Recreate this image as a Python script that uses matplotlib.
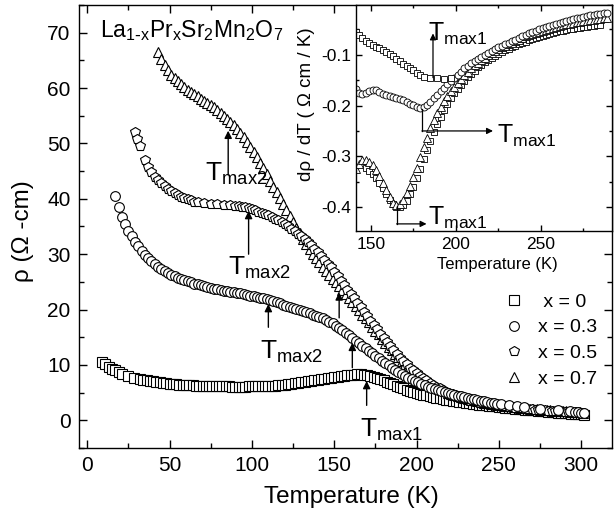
import numpy as np
import matplotlib
matplotlib.use("Agg")
import matplotlib.pyplot as plt
from matplotlib.ticker import MultipleLocator

plt.rcParams['font.family'] = ['Liberation Sans', 'DejaVu Sans']
plt.rcParams['mathtext.default'] = 'regular'
plt.rcParams['axes.unicode_minus'] = False

# ---- main panel: rho(T) ----
# x = 0 (squares)
T_x0 = np.r_[[9, 11, 13, 15, 17, 19, 21, 24.5, 28.5, 32], np.arange(34, 303, 2)]
rho_x0 = [10.5, 10.1, 9.7, 9.3, 9.0, 8.7, 8.4, 8.0, 7.7, 7.45,
          7.36, 7.24, 7.12, 7.02, 6.93, 6.84, 6.76, 6.69, 6.62, 6.56,
          6.50, 6.45, 6.40, 6.36, 6.32, 6.29, 6.26, 6.23, 6.21, 6.19,
          6.17, 6.16, 6.14, 6.13, 6.12, 6.12, 6.11, 6.10, 6.10, 6.10,
          6.10, 6.10, 6.11, 6.12, 6.13, 6.14, 6.16, 6.18, 6.21, 6.24,
          6.28, 6.32, 6.37, 6.43, 6.50, 6.58, 6.66, 6.75, 6.84, 6.94,
          7.04, 7.14, 7.24, 7.34, 7.44, 7.54, 7.64, 7.73, 7.82, 7.91,
          7.99, 8.07, 8.14, 8.20, 8.25, 8.28, 8.28, 8.24, 8.15, 8.01,
          7.84, 7.65, 7.43, 7.20, 6.97, 6.72, 6.48, 6.24, 6.00, 5.77,
          5.55, 5.35, 5.15, 4.97, 4.80, 4.64, 4.49, 4.35, 4.22, 4.09,
          3.97, 3.85, 3.74, 3.63, 3.53, 3.43, 3.34, 3.25, 3.16, 3.08,
          3.00, 2.92, 2.85, 2.78, 2.70, 2.63, 2.57, 2.50, 2.43, 2.37,
          2.31, 2.25, 2.19, 2.13, 2.07, 2.01, 1.95, 1.89, 1.83, 1.78,
          1.73, 1.67, 1.62, 1.57, 1.51, 1.46, 1.41, 1.35, 1.30, 1.25,
          1.20, 1.15, 1.10, 1.06, 1.02]

# x = 0.3 (circles)
T_x3 = np.r_[np.arange(17, 252, 2), [256, 261, 265, 275, 286, 293, 296, 298, 300, 301.5]]
rho_x3 = [40.5, 38.5, 36.8, 35.4, 34.2, 33.2, 32.2, 31.4, 30.6, 29.9,
          29.3, 28.7, 28.2, 27.7, 27.3, 26.9, 26.6, 26.3, 26.0, 25.7,
          25.5, 25.3, 25.1, 24.9, 24.7, 24.6, 24.4, 24.2, 24.1, 23.9,
          23.8, 23.7, 23.5, 23.4, 23.3, 23.2, 23.1, 23.0, 22.9, 22.8,
          22.7, 22.5, 22.4, 22.3, 22.1, 22.0, 21.9, 21.7, 21.5, 21.3,
          21.1, 20.9, 20.7, 20.5, 20.3, 20.1, 19.9, 19.7, 19.5, 19.3,
          19.1, 18.9, 18.7, 18.4, 18.1, 17.8, 17.5, 17.1, 16.7, 16.3,
          15.8, 15.4, 14.9, 14.4, 14.0, 13.5, 13.0, 12.6, 12.1, 11.6,
          11.2, 10.8, 10.3, 9.9, 9.5, 9.1, 8.7, 8.4, 8.0, 7.7,
          7.4, 7.1, 6.9, 6.6, 6.3, 6.1, 5.9, 5.7, 5.5, 5.3,
          5.1, 4.9, 4.8, 4.6, 4.4, 4.3, 4.2, 4.0, 3.9, 3.8,
          3.6, 3.5, 3.4, 3.3, 3.2, 3.1, 3.0, 2.9,
          2.7, 2.5, 2.4, 2.1, 1.8, 1.6, 1.5, 1.45, 1.4, 1.35]

# x = 0.5 (pentagons)
T_x5 = np.r_[[29, 30.5, 32], np.arange(35, 68, 2), [71, 75, 79, 83, 87], np.arange(90, 303, 2)]
rho_x5 = [52.0, 50.8, 49.5,
          47.0, 45.8, 44.8, 44.0, 43.4, 42.8, 42.3, 41.8, 41.4, 41.0,
          40.7, 40.4, 40.1, 39.9, 39.7, 39.5, 39.4,
          39.3, 39.1, 39.0, 38.9, 38.8,
          38.7, 38.7, 38.6, 38.5, 38.3, 38.1, 37.9, 37.7, 37.5, 37.2,
          37.0, 36.7, 36.4, 36.1, 35.8, 35.4, 35.0, 34.6, 34.2, 33.7,
          33.2, 32.7, 32.2, 31.6, 31.0, 30.4, 29.7, 29.0, 28.3, 27.6,
          26.8, 26.0, 25.2, 24.4, 23.6, 22.8, 22.0, 21.2, 20.4, 19.6,
          18.8, 18.0, 17.2, 16.4, 15.6, 14.8, 14.1, 13.4, 12.7, 12.0,
          11.3, 10.7, 10.1, 9.5, 9.0, 8.5, 8.0, 7.6, 7.2, 6.8,
          6.4, 6.1, 5.8, 5.5, 5.2, 4.9, 4.7, 4.5, 4.3, 4.1,
          3.9, 3.8, 3.6, 3.5, 3.4, 3.2, 3.1, 3.0, 2.9, 2.8,
          2.7, 2.6, 2.5, 2.45, 2.4, 2.3, 2.25, 2.2, 2.1, 2.05,
          2.0, 1.95, 1.9, 1.85, 1.8, 1.77, 1.74, 1.7, 1.65, 1.6,
          1.57, 1.54, 1.5, 1.46, 1.43, 1.4, 1.36]

# x = 0.7 (triangles)
T_x7 = np.arange(43, 302, 2)
rho_x7 = [66.5, 65.2, 64.1, 63.2, 62.4, 61.8, 61.2, 60.7, 60.2, 59.7,
          59.3, 58.9, 58.5, 58.1, 57.7, 57.3, 56.9, 56.5, 56.0, 55.5,
          55.0, 54.5, 53.9, 53.3, 52.6, 51.9, 51.1, 50.2, 49.3, 48.4,
          47.5, 46.5, 45.5, 44.4, 43.3, 42.2, 41.2, 40.1, 39.0, 38.0,
          36.9, 35.9, 34.8, 33.8, 32.8, 31.9, 31.0, 30.1, 29.3, 28.5,
          27.7, 27.0, 26.3, 25.6, 24.9, 24.2, 23.6, 22.8, 22.1, 21.3,
          20.6, 19.9, 19.1, 18.4, 17.7, 16.9, 16.2, 15.5, 14.7, 14.0,
          13.3, 12.7, 12.0, 11.4, 10.8, 10.2, 9.6, 9.1, 8.6, 8.1,
          7.7, 7.3, 6.9, 6.5, 6.2, 5.9, 5.6, 5.3, 5.0, 4.8,
          4.6, 4.4, 4.2, 4.05, 3.9, 3.75, 3.6, 3.45, 3.3, 3.2,
          3.1, 3.0, 2.9, 2.8, 2.7, 2.6, 2.55, 2.5, 2.4, 2.35,
          2.3, 2.2, 2.15, 2.1, 2.0, 1.97, 1.93, 1.9, 1.85, 1.8,
          1.76, 1.72, 1.68, 1.64, 1.6, 1.56, 1.52, 1.48, 1.44, 1.4]

legend_labels = [' x = 0', 'x = 0.3', 'x = 0.5', 'x = 0.7']

# ---- inset: d rho / dT ----
Ti_top = np.r_[np.arange(141, 182, 2), [185, 189, 193, 197]]
d_top = [-0.055, -0.061, -0.067, -0.072, -0.076, -0.080, -0.084, -0.087, -0.090, -0.094,
         -0.098, -0.103, -0.108, -0.113, -0.118, -0.122, -0.126, -0.130, -0.135, -0.140,
         -0.143, -0.146, -0.146, -0.147, -0.146]

Ti_mid = np.arange(141, 290, 2)
d_mid = [-0.168, -0.176, -0.178, -0.175, -0.171, -0.169, -0.170, -0.174, -0.177, -0.180,
         -0.182, -0.184, -0.186, -0.188, -0.190, -0.193, -0.196, -0.199, -0.202, -0.204,
         -0.203, -0.199, -0.193, -0.186, -0.179, -0.172, -0.165, -0.158, -0.151, -0.145,
         -0.139, -0.133, -0.127, -0.122, -0.117, -0.113, -0.108, -0.104, -0.100, -0.096,
         -0.092, -0.089, -0.085, -0.082, -0.079, -0.076, -0.073, -0.070, -0.067, -0.064,
         -0.061, -0.058, -0.055, -0.053, -0.050, -0.048, -0.046, -0.044, -0.042, -0.040,
         -0.038, -0.036, -0.034, -0.032, -0.030, -0.028, -0.027, -0.025, -0.024, -0.022,
         -0.021, -0.020, -0.019, -0.018, -0.017]

Ti_bot = np.arange(141, 290, 2)
d_bot = [-0.325, -0.316, -0.308, -0.307, -0.312, -0.318, -0.326, -0.338, -0.352, -0.366,
         -0.380, -0.392, -0.396, -0.393, -0.385, -0.373, -0.358, -0.341, -0.322, -0.302,
         -0.282, -0.263, -0.245, -0.229, -0.215, -0.202, -0.191, -0.181, -0.172, -0.163,
         -0.155, -0.147, -0.140, -0.133, -0.127, -0.121, -0.116, -0.111, -0.106, -0.101,
         -0.097, -0.093, -0.089, -0.085, -0.082, -0.079, -0.076, -0.073, -0.070, -0.067,
         -0.064, -0.062, -0.059, -0.057, -0.055, -0.053, -0.051, -0.049, -0.047, -0.045,
         -0.043, -0.042, -0.040, -0.039, -0.037, -0.036, -0.035, -0.034, -0.033, -0.032,
         -0.031, -0.030, -0.029, -0.028, -0.027]

Ti_sq = np.arange(147, 286, 2)
d_sq = [-0.322, -0.328, -0.334, -0.342, -0.352, -0.363, -0.374, -0.385, -0.394, -0.399,
        -0.400, -0.396, -0.387, -0.375, -0.360, -0.343, -0.325, -0.306, -0.287, -0.269,
        -0.252, -0.236, -0.222, -0.209, -0.197, -0.186, -0.176, -0.167, -0.159, -0.151,
        -0.144, -0.137, -0.131, -0.125, -0.120, -0.115, -0.110, -0.106, -0.102, -0.098,
        -0.094, -0.091, -0.088, -0.085, -0.082, -0.079, -0.076, -0.074, -0.071, -0.069,
        -0.067, -0.065, -0.063, -0.061, -0.059, -0.057, -0.056, -0.054, -0.053, -0.051,
        -0.050, -0.049, -0.048, -0.047, -0.046, -0.045, -0.044, -0.043, -0.042, -0.041]


def style_axis(a, xmaj, xmin, ymaj, ymin, fs, L, pad_x, pad_y):
    a.xaxis.set_major_locator(MultipleLocator(xmaj))
    a.xaxis.set_minor_locator(MultipleLocator(xmin))
    a.yaxis.set_major_locator(MultipleLocator(ymaj))
    a.yaxis.set_minor_locator(MultipleLocator(ymin))
    a.tick_params(which='both', direction='in', top=True, right=True, width=1)
    a.tick_params(which='major', length=L)
    a.tick_params(which='minor', length=L * 0.55)
    a.tick_params(axis='x', labelsize=fs, pad=pad_x)
    a.tick_params(axis='y', labelsize=fs, pad=pad_y)
    for s in a.spines.values():
        s.set_linewidth(1.0)


fig = plt.figure(figsize=(6.14, 5.19), dpi=100)
ax = fig.add_axes([0.1287, 0.1368, 0.8688, 0.8536])

mk = dict(linestyle='none', markerfacecolor='white', markeredgecolor='black',
          markeredgewidth=0.8)
h0, = ax.plot(T_x0, rho_x0, marker='s', markersize=6.5, **mk)
h7, = ax.plot(T_x7, rho_x7, marker='^', markersize=7, **mk)
h5, = ax.plot(T_x5, rho_x5, marker='p', markersize=7, **mk)
h3, = ax.plot(T_x3, rho_x3, marker='o', markersize=7, **mk)

ax.set_xlim(-5, 319)
ax.set_ylim(-5, 75)
style_axis(ax, 50, 25, 10, 5, 15, 6, 6, 6)
ax.set_xlabel('Temperature (K)', fontsize=17.5)
ax.set_ylabel('\u03c1 (\u03a9 -cm)', fontsize=17.5)
ax.xaxis.set_label_coords(0.51, -0.085)
ax.yaxis.set_label_coords(-0.085, 0.49)

ax.text(8, 70.4, r'La$_{1\text{-}x}$Pr$_x$Sr$_2$Mn$_2$O$_7$', fontsize=16.5, va='center', ha='left')

arw = dict(arrowstyle='-|>', color='k', lw=1, shrinkA=0, shrinkB=0, mutation_scale=11)
main_arrows = [((85.6, 44.4), (85.6, 52.3)),
               ((98, 30.0), (98, 37.8)),
               ((110, 16.8), (110, 21.0)),
               ((153, 18.5), (153, 23.1)),
               ((161, 9.5), (161, 14.0)),
               ((169.7, 2.7), (169.7, 7.1))]
for tail, tip in main_arrows:
    ax.annotate('', xy=tip, xytext=tail, arrowprops=arw)

tfs = 19
ax.text(71.6, 46.9, r'T$_{max2}$', fontsize=tfs, ha='left', va='top')
ax.text(85.6, 29.8, r'T$_{max2}$', fontsize=tfs, ha='left', va='top')
ax.text(105, 14.7, r'T$_{max2}$', fontsize=tfs, ha='left', va='top')
ax.text(165.7, 0.6, r'T$_{max1}$', fontsize=tfs, ha='left', va='top')

ax.legend([h0, h3, h5, h7], legend_labels, loc='upper left', bbox_to_anchor=(0.797, 0.35),
          frameon=False, fontsize=14, handlelength=1.0, handletextpad=0.75,
          labelspacing=0.42, borderpad=0, borderaxespad=0, markerscale=1.0)

# ---- inset ----
axi = fig.add_axes([0.5798, 0.5549, 0.4169, 0.4355])
mki = dict(linestyle='none', markerfacecolor='white', markeredgecolor='black',
           markeredgewidth=0.6)
axi.plot(Ti_sq, d_sq, marker='s', markersize=5, **mki)
axi.plot(Ti_bot, d_bot, marker='^', markersize=5.5, **mki)
axi.plot(Ti_mid, d_mid, marker='o', markersize=5, **mki)
axi.plot(Ti_top, d_top, marker='s', markersize=5, **mki)

axi.set_xlim(141.2, 291.8)
axi.set_ylim(-0.447, -0.002)
style_axis(axi, 50, 25, 0.1, 0.05, 12.5, 4.5, 4, 3.5)
axi.set_xlabel('Temperature (K)', fontsize=12)
axi.set_ylabel('d\u03c1 / dT ( \u03a9 cm / K)', fontsize=13.5)
axi.xaxis.set_label_coords(0.551, -0.115)
axi.yaxis.set_label_coords(-0.16, 0.56)

arwi = dict(arrowstyle='-|>', color='k', lw=0.9, shrinkA=0, shrinkB=0, mutation_scale=9)
axi.annotate('', xy=(186.5, -0.058), xytext=(186.5, -0.145), arrowprops=arwi)
axi.plot([180, 180], [-0.207, -0.250], color='k', lw=0.9)
axi.annotate('', xy=(221.8, -0.250), xytext=(180, -0.250), arrowprops=arwi)
axi.plot([165.1, 165.1], [-0.398, -0.433], color='k', lw=0.9)
axi.annotate('', xy=(182.7, -0.433), xytext=(165.1, -0.433), arrowprops=arwi)

ifs = 18
axi.text(183.5, -0.034, r'T$_{max1}$', fontsize=ifs, ha='left', va='top')
axi.text(224, -0.234, r'T$_{max1}$', fontsize=ifs, ha='left', va='top')
axi.text(183.5, -0.396, r'T$_{max1}$', fontsize=ifs, ha='left', va='top')

fig.savefig('out.png', dpi=100)
